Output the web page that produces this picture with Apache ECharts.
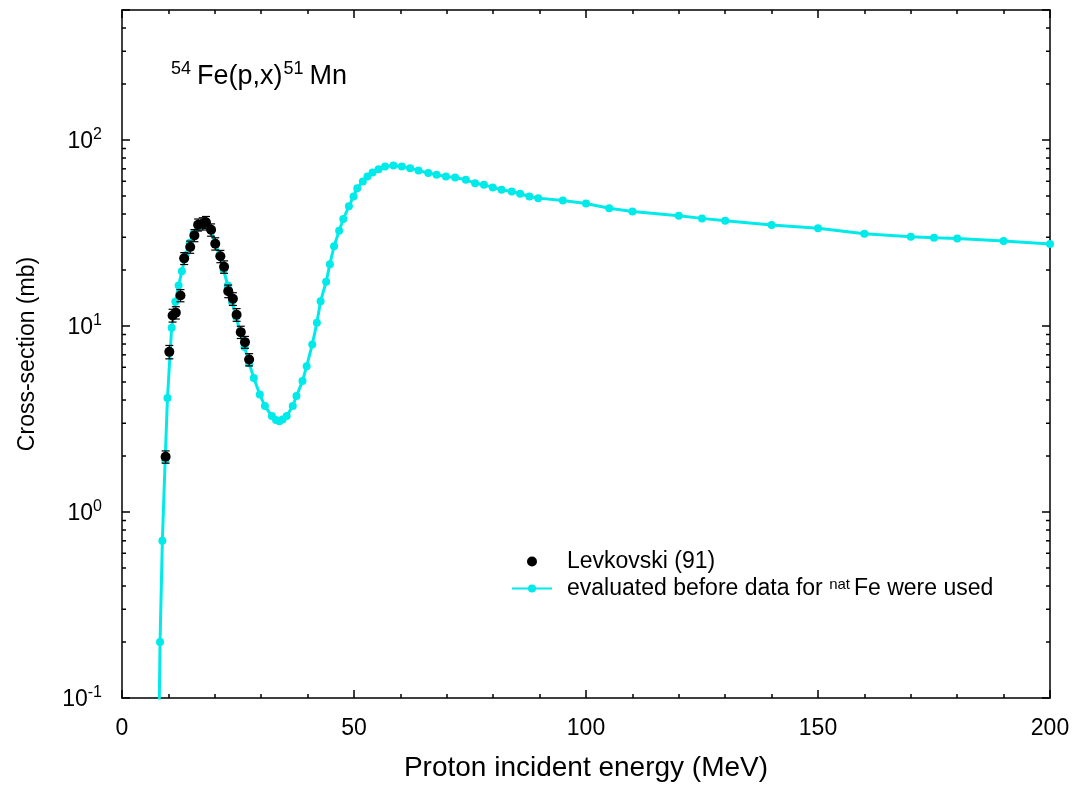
<!DOCTYPE html>
<html>
<head>
<meta charset="utf-8">
<script src="https://cdn.jsdelivr.net/npm/echarts@6/dist/echarts.min.js"></script>
<style>
html,body{margin:0;padding:0;background:#fff;}
#chart{width:1078px;height:787px;}
</style>
</head>
<body>
<div id="chart"></div>
<script>
// ---- data ----
const evalEnergy = [7.9, 8.2, 8.7, 9.3, 9.8, 10.7, 11.5, 12.2, 12.9, 13.7, 14.6, 15.5, 16.4, 17.4, 18.3, 19.2, 20.1, 21.0, 21.9, 22.8, 23.7, 24.6, 25.5, 26.4, 27.4, 28.4, 29.7, 30.8, 32.3, 33.2, 33.9, 34.6, 35.5, 36.8, 37.6, 38.9, 39.8, 41.0, 42.0, 42.8, 44.0, 44.8, 45.7, 46.8, 47.7, 48.9, 49.9, 50.7, 51.9, 52.9, 54.0, 55.3, 56.7, 58.5, 60.3, 62.1, 63.9, 66.0, 67.8, 69.8, 71.8, 74.1, 76.1, 78.0, 79.9, 81.8, 84.0, 85.8, 87.8, 89.7, 95, 100, 105, 110, 120, 125, 130, 140, 150, 160, 170, 175, 180, 190, 200];
const evalXs = [0.05, 0.2, 0.7, 1.9, 4.1, 9.8, 13.5, 16.5, 19.7, 24, 28, 31.5, 34, 35.5, 35, 32.5, 28, 24, 20, 16.5, 13.5, 11.2, 9.2, 7.7, 6.3, 5.26, 4.28, 3.71, 3.28, 3.12, 3.08, 3.14, 3.28, 3.71, 4.2, 5.06, 6.08, 7.95, 10.4, 13.6, 17.3, 21.5, 26.8, 32.5, 37.6, 44.0, 49.7, 55.1, 59.8, 63.7, 66.9, 69.7, 72.1, 73.0, 72.1, 70.6, 68.6, 66.4, 65.0, 63.7, 62.9, 61.1, 58.6, 57.4, 55.6, 54.0, 52.9, 51.4, 49.7, 48.7, 47.3, 45.6, 43.0, 41.3, 39.1, 37.9, 36.8, 34.9, 33.5, 31.3, 30.2, 29.8, 29.5, 28.6, 27.6];

const expEnergy = [9.4, 10.2, 10.9, 11.6, 12.6, 13.4, 14.7, 15.6, 16.4, 17.4, 18.1, 19.2, 20.1, 21.2, 22.0, 22.9, 23.9, 24.7, 25.6, 26.5, 27.4];
const expXs = [1.98, 7.26, 11.4, 11.8, 14.6, 23.1, 26.6, 30.7, 35.0, 35.5, 36.1, 32.9, 27.7, 23.7, 20.8, 15.4, 14.0, 11.5, 9.27, 8.19, 6.6];
const expErr = [0.15, 0.6, 0.9, 0.9, 1.1, 1.7, 2.0, 2.3, 2.6, 2.7, 2.7, 2.5, 2.1, 1.8, 1.6, 1.2, 1.1, 0.9, 0.7, 0.6, 0.5];

const xTicks = [0, 50, 100, 150, 200];
const yMinorTicks = [0.2,0.3,0.4,0.5,0.6,0.7,0.8,0.9,2,3,4,5,6,7,8,9,20,30,40,50,60,70,80,90,200,300,400];

const seriesNames = ['Levkovski (91)', 'evaluated before data for natFe were used'];
const legendLabels = ['Levkovski (91)', 'evaluated before data for {sup|nat}Fe were used'];

// ---- chart ----
const FONT = '"Liberation Sans", Arial, sans-serif';
const CYAN = '#00eaea';
const chart = echarts.init(document.getElementById('chart'), null, {renderer: 'canvas'});

const evalData = evalEnergy.map((e, i) => [e, evalXs[i]]);
const expData = expEnergy.map((e, i) => [e, expXs[i]]);
const errData = expEnergy.map((e, i) => [e, expXs[i], expErr[i]]);
const minorData = yMinorTicks.map(v => [0, v]);

function yLabel(v) {
  const ex = Math.round(Math.log10(v));
  if (Math.abs(v - Math.pow(10, ex)) / v > 0.01) return '';
  return '{b|10}{s|' + ex + '}';
}

const option = {
  backgroundColor: '#fff',
  animation: false,
  textStyle: {fontFamily: FONT},
  title: {
    text: '{sup|54}{n|Fe(p,x)}{sup|51}{m|Mn}',
    left: 166, top: 55,
    textStyle: {
      fontWeight: 'normal',
      rich: {
        n: {fontSize: 27, fontFamily: FONT, fontWeight: 'normal', color: '#000', lineHeight: 30, verticalAlign: 'bottom', padding: [0, 1, 0, 0]},
        m: {fontSize: 27, fontFamily: FONT, fontWeight: 'normal', color: '#000', lineHeight: 30, verticalAlign: 'bottom'},
        sup: {fontSize: 18, fontFamily: FONT, fontWeight: 'normal', color: '#000', verticalAlign: 'top', lineHeight: 18, padding: [0, 6, 0, 0]}
      }
    }
  },
  grid: {left: 122, right: 28, top: 10, bottom: 87, containLabel: false},
  legend: {
    orient: 'vertical',
    left: 506, top: 545,
    itemWidth: 40, itemHeight: 10, itemGap: 4,
    data: [seriesNames[0], seriesNames[1]],
    formatter: function (name) { return legendLabels[seriesNames.indexOf(name)]; },
    textStyle: {
      fontSize: 23, fontFamily: FONT, color: '#000', lineHeight: 23, padding: [0, 0, 0, 10],
      rich: {
        sup: {fontSize: 15, fontFamily: FONT, color: '#000', verticalAlign: 'top', lineHeight: 15, padding: [0, 4, 7, 0]}
      }
    }
  },
  xAxis: [{
    type: 'value', min: 0, max: 200, interval: 50,
    name: 'Proton incident energy (MeV)', nameLocation: 'middle', nameGap: 56,
    nameTextStyle: {fontSize: 28, fontFamily: FONT, color: '#000'},
    axisLine: {show: true, onZero: false, lineStyle: {color: '#000', width: 1.5}},
    axisTick: {show: true, inside: true, length: 8, lineStyle: {color: '#000', width: 1.5}},
    minorTick: {show: true, splitNumber: 5, length: 4, lineStyle: {color: '#000', width: 1.5}},
    axisLabel: {fontSize: 23, fontFamily: FONT, color: '#000', margin: 19,
      formatter: v => (xTicks.indexOf(v) >= 0 ? String(v) : '')},
    splitLine: {show: false}
  }, {
    type: 'value', min: 0, max: 200, interval: 50, position: 'top',
    axisLine: {show: true, onZero: false, lineStyle: {color: '#000', width: 1.5}},
    axisTick: {show: true, inside: true, length: 8, lineStyle: {color: '#000', width: 1.5}},
    minorTick: {show: true, splitNumber: 5, length: 4, lineStyle: {color: '#000', width: 1.5}},
    axisLabel: {show: false},
    splitLine: {show: false}
  }],
  yAxis: [{
    type: 'log', logBase: 10, min: 0.1, max: 500,
    name: 'Cross-section (mb)', nameLocation: 'middle', nameGap: 83,
    nameTextStyle: {fontSize: 23, fontFamily: FONT, color: '#000'},
    axisLine: {show: true, onZero: false, lineStyle: {color: '#000', width: 1.5}},
    axisTick: {show: true, inside: true, length: 8, lineStyle: {color: '#000', width: 1.5}},
    axisLabel: {
      margin: 20, color: '#000', formatter: yLabel,
      rich: {
        b: {fontSize: 23, fontFamily: FONT, color: '#000', lineHeight: 26, verticalAlign: 'bottom'},
        s: {fontSize: 16, fontFamily: FONT, color: '#000', verticalAlign: 'top', lineHeight: 14}
      }
    },
    splitLine: {show: false}
  }, {
    type: 'log', logBase: 10, min: 0.1, max: 500, position: 'right',
    axisLine: {show: true, onZero: false, lineStyle: {color: '#000', width: 1.5}},
    axisTick: {show: true, inside: true, length: 8, lineStyle: {color: '#000', width: 1.5}},
    axisLabel: {show: false},
    splitLine: {show: false}
  }],
  series: [
    {
      name: seriesNames[1],
      type: 'line', xAxisIndex: 0, yAxisIndex: 0,
      data: evalData,
      symbol: 'circle', symbolSize: 8, showSymbol: true,
      lineStyle: {color: CYAN, width: 3},
      itemStyle: {color: CYAN, opacity: 1},
      clip: true, z: 2
    },
    {
      name: 'minorTicks', type: 'custom', xAxisIndex: 0, yAxisIndex: 0,
      data: minorData, silent: true, z: 5,
      encode: {x: 0, y: 1},
      renderItem: function (params, api) {
        const v = api.value(1);
        const l = api.coord([0, v]);
        const r = api.coord([200, v]);
        const st = {stroke: '#000', lineWidth: 1.5};
        return {type: 'group', children: [
          {type: 'line', shape: {x1: l[0], y1: l[1], x2: l[0] + 4, y2: l[1]}, style: st},
          {type: 'line', shape: {x1: r[0], y1: r[1], x2: r[0] - 4, y2: r[1]}, style: st}
        ]};
      }
    },
    {
      name: 'errorBars', type: 'custom', xAxisIndex: 0, yAxisIndex: 0,
      data: errData, silent: true, z: 3,
      encode: {x: 0, y: 1},
      renderItem: function (params, api) {
        const x = api.value(0), y = api.value(1), e = api.value(2);
        const t = api.coord([x, y + e]);
        const b = api.coord([x, y - e]);
        const st = {stroke: '#000', lineWidth: 1.2};
        return {type: 'group', children: [
          {type: 'line', shape: {x1: t[0], y1: t[1], x2: b[0], y2: b[1]}, style: st},
          {type: 'line', shape: {x1: t[0] - 4, y1: t[1], x2: t[0] + 4, y2: t[1]}, style: st},
          {type: 'line', shape: {x1: b[0] - 4, y1: b[1], x2: b[0] + 4, y2: b[1]}, style: st}
        ]};
      }
    },
    {
      name: seriesNames[0],
      type: 'scatter', xAxisIndex: 0, yAxisIndex: 0,
      data: expData,
      symbol: 'circle', symbolSize: 10,
      itemStyle: {color: '#000', opacity: 1},
      z: 4
    }
  ]
};
chart.setOption(option);
</script>
</body>
</html>
